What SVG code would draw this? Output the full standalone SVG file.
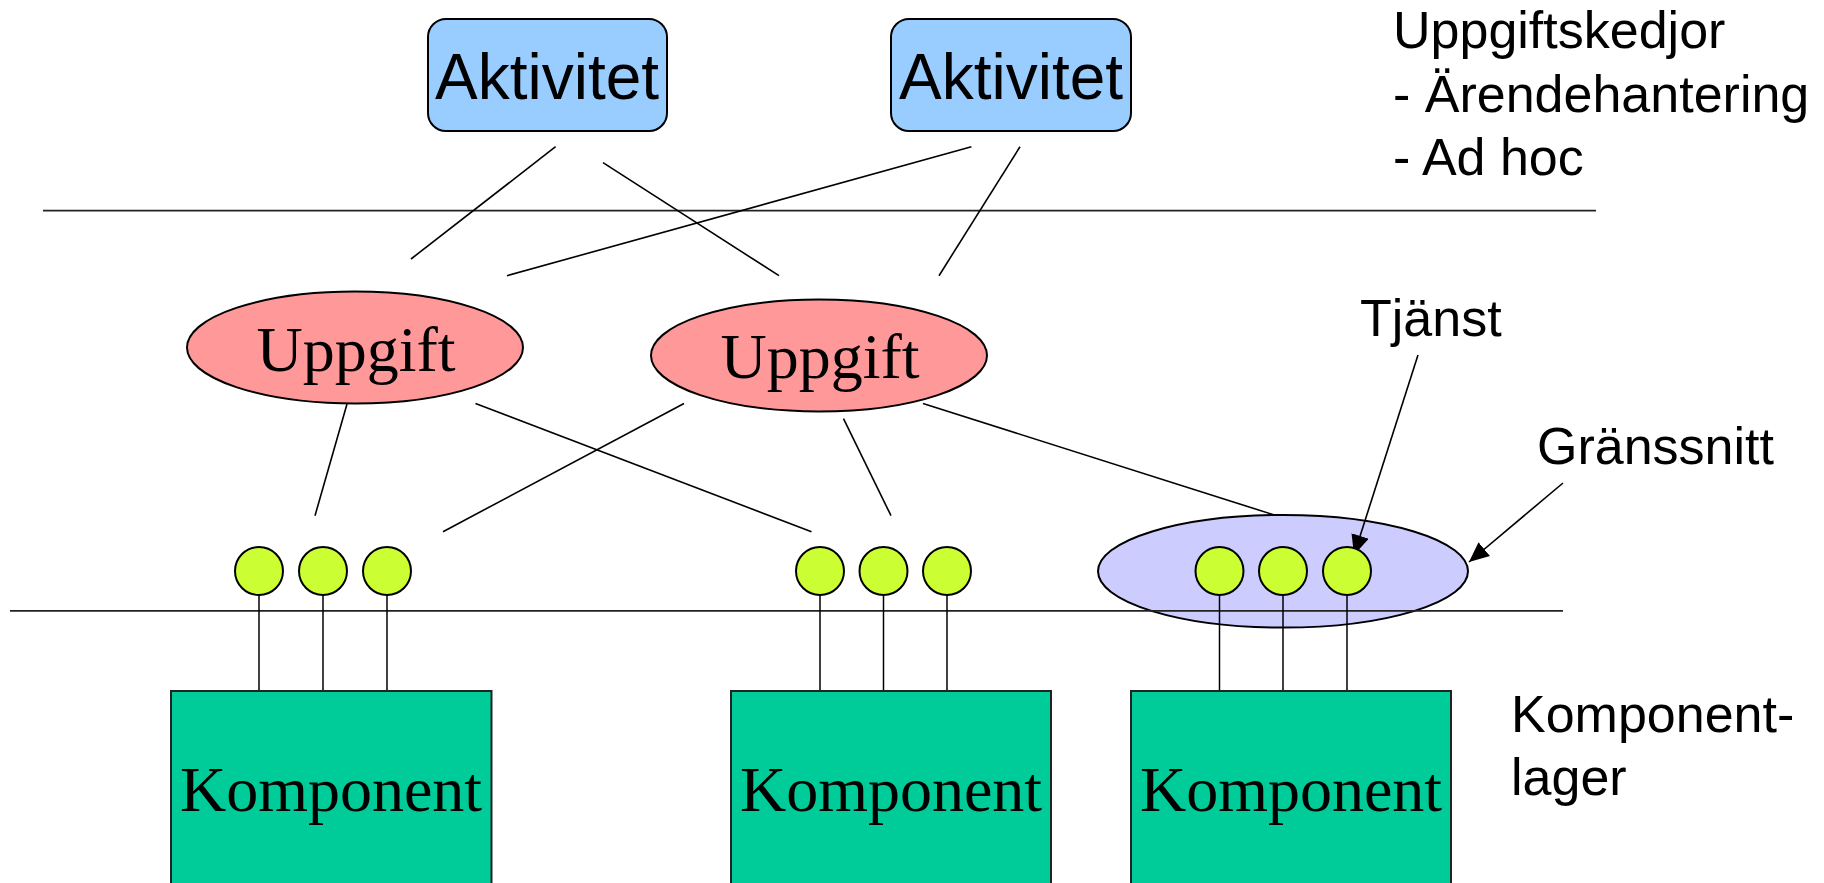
<svg xmlns="http://www.w3.org/2000/svg" width="1824" height="883" viewBox="0 0 1824 883">
  <style>
    .sans { font-family: "Liberation Sans", Arial, sans-serif; fill: #000; }
    .serif { font-family: "Liberation Serif", "Times New Roman", serif; fill: #000; }
    .activity { fill: #99CCFF; stroke: #000; stroke-width: 2; }
    .task { fill: #FF9999; stroke: #000; stroke-width: 2; }
    .component { fill: #00CC99; stroke: #222; stroke-width: 2; }
    .port { fill: #CCFF33; stroke: #000; stroke-width: 2; }
    .iface { fill: #CCCCFF; stroke: #000; stroke-width: 2; }
    .link { stroke: #000; stroke-width: 1.6; fill: none; }
    .layer { stroke: #222; stroke-width: 1.8; fill: none; }
    .stem { stroke: #000; stroke-width: 1.5; }
  </style>
  <defs>
    <marker id="arrow" viewBox="0 0 20 18" refX="20" refY="9" markerWidth="20" markerHeight="18" markerUnits="userSpaceOnUse" orient="auto">
      <path d="M0,0 L20,9 L0,18 z" fill="#000"/>
    </marker>
  </defs>

  <rect width="1824" height="883" fill="#fff"/>

  <!-- activities -->
  <g id="aktivitet-1">
    <rect class="activity" x="428" y="19" width="239" height="112" rx="18" ry="18"/>
    <text class="sans" x="547" y="99" font-size="64" text-anchor="middle">Aktivitet</text>
  </g>
  <g id="aktivitet-2">
    <rect class="activity" x="891" y="19" width="240" height="112" rx="18" ry="18"/>
    <text class="sans" x="1011" y="99" font-size="64" text-anchor="middle">Aktivitet</text>
  </g>

  <!-- tasks -->
  <g id="uppgift-1">
    <ellipse class="task" cx="355" cy="347.5" rx="168" ry="56"/>
    <text class="serif" x="356" y="371" font-size="64" text-anchor="middle">Uppgift</text>
  </g>
  <g id="uppgift-2">
    <ellipse class="task" cx="819" cy="355.5" rx="168" ry="56"/>
    <text class="serif" x="820" y="378" font-size="64" text-anchor="middle">Uppgift</text>
  </g>

  <!-- interface ellipse around the third port group -->
  <g id="granssnitt-ellipse">
    <ellipse class="iface" cx="1283" cy="571.3" rx="185" ry="56.3"/>
  </g>

  <!-- layer separators -->
  <g id="layers">
    <line class="layer" x1="43" y1="210.7" x2="1596" y2="210.7"/>
    <line class="layer" x1="10" y1="610.8" x2="1563" y2="610.8"/>
  </g>

  <!-- connectors -->
  <g id="connectors">
    <line class="link" x1="555.6" y1="146.7" x2="411" y2="259"/>
    <line class="link" x1="603" y1="162.7" x2="779" y2="275.7"/>
    <line class="link" x1="971.4" y1="146.7" x2="507" y2="275.7"/>
    <line class="link" x1="1020" y1="146.7" x2="939" y2="275.7"/>
    <line class="link" x1="347" y1="404" x2="315" y2="515.7"/>
    <line class="link" x1="475.5" y1="403.5" x2="811.5" y2="531.7"/>
    <line class="link" x1="684" y1="403.5" x2="443" y2="531.7"/>
    <line class="link" x1="843.5" y1="418.7" x2="891" y2="515.7"/>
    <line class="link" x1="923" y1="403.5" x2="1275" y2="515.2"/>
    <!-- component stems -->
    <line class="stem" x1="259" y1="595" x2="259" y2="691"/>
    <line class="stem" x1="323" y1="595" x2="323" y2="691"/>
    <line class="stem" x1="387" y1="595" x2="387" y2="691"/>
    <line class="stem" x1="820" y1="595" x2="820" y2="691"/>
    <line class="stem" x1="883.5" y1="595" x2="883.5" y2="691"/>
    <line class="stem" x1="947" y1="595" x2="947" y2="691"/>
    <line class="stem" x1="1219.5" y1="595" x2="1219.5" y2="691"/>
    <line class="stem" x1="1283" y1="595" x2="1283" y2="691"/>
    <line class="stem" x1="1347" y1="595" x2="1347" y2="691"/>
    <!-- annotation arrows -->
    <line class="link" x1="1418" y1="355" x2="1354" y2="555" stroke-width="2.2" marker-end="url(#arrow)"/>
    <line class="link" x1="1563" y1="483" x2="1469" y2="562" stroke-width="2.2" marker-end="url(#arrow)"/>
  </g>

  <!-- service ports -->
  <g id="portar-1">
    <circle class="port" cx="259" cy="571" r="24"/>
    <circle class="port" cx="323" cy="571" r="24"/>
    <circle class="port" cx="387" cy="571" r="24"/>
  </g>
  <g id="portar-2">
    <circle class="port" cx="820" cy="571" r="24"/>
    <circle class="port" cx="883.5" cy="571" r="24"/>
    <circle class="port" cx="947" cy="571" r="24"/>
  </g>
  <g id="portar-3">
    <circle class="port" cx="1219.5" cy="571" r="24"/>
    <circle class="port" cx="1283" cy="571" r="24"/>
    <circle class="port" cx="1347" cy="571" r="24"/>
  </g>

  <!-- components -->
  <g id="komponent-1">
    <rect class="component" x="171" y="691" width="320.5" height="200"/>
    <text class="serif" x="331" y="811" font-size="64" text-anchor="middle">Komponent</text>
  </g>
  <g id="komponent-2">
    <rect class="component" x="731" y="691" width="320" height="200"/>
    <text class="serif" x="891" y="811" font-size="64" text-anchor="middle">Komponent</text>
  </g>
  <g id="komponent-3">
    <rect class="component" x="1131" y="691" width="320" height="200"/>
    <text class="serif" x="1291" y="811" font-size="64" text-anchor="middle">Komponent</text>
  </g>

  <!-- labels -->
  <g id="etikett-uppgiftskedjor">
    <text class="sans" x="1393" y="48" font-size="52">Uppgiftskedjor</text>
    <text class="sans" x="1393" y="111.5" font-size="52">- Ärendehantering</text>
    <text class="sans" x="1393" y="175" font-size="52">- Ad hoc</text>
  </g>
  <g id="etikett-tjanst">
    <text class="sans" x="1360" y="336" font-size="52">Tjänst</text>
  </g>
  <g id="etikett-granssnitt">
    <text class="sans" x="1537" y="464" font-size="52">Gränssnitt</text>
  </g>
  <g id="etikett-komponentlager">
    <text class="sans" x="1511" y="731.5" font-size="52">Komponent-</text>
    <text class="sans" x="1511" y="795" font-size="52">lager</text>
  </g>
</svg>
